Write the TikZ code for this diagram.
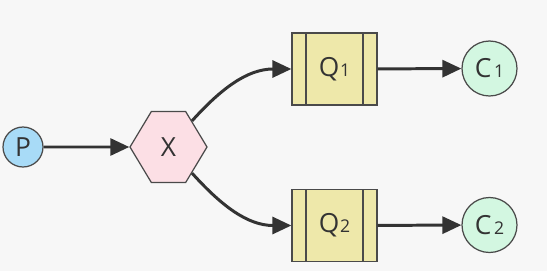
\documentclass[tikz,border=0pt]{standalone}
\usepackage{fontspec}
\setmainfont{Open Sans}
\usepackage{xcolor}
\usetikzlibrary{arrows.meta,shapes.geometric,shapes.symbols}
\definecolor{mqbg}{HTML}{F7F7F7}
\definecolor{mqline}{HTML}{333333}
\definecolor{mqborder}{HTML}{4A4A4A}
\definecolor{mqprod}{HTML}{A8DBF7}
\definecolor{mqexch}{HTML}{FCDFE5}
\definecolor{mqqueue}{HTML}{EEE8AA}
\definecolor{mqcons}{HTML}{D3F7E1}

\newcommand{\sub}[1]{\kern0.5pt{\fontsize{10}{10}\selectfont #1}}

\begin{document}
\begin{tikzpicture}[
        x=0.02cm, y=-0.02cm,
        font=\fontsize{15}{18}\selectfont,
        base/.style={draw=mqborder, line width=0.7pt, text=black!80, inner sep=0pt},
        producer/.style={base, circle, minimum size=0.8cm, fill=mqprod},
        exchange/.style={base, signal, signal to=west and east, signal pointer angle=118,
            minimum width=1.54cm, minimum height=1.42cm, fill=mqexch},
        queue/.style={base, rectangle, minimum width=1.7cm, minimum height=1.44cm, fill=mqqueue,
            path picture={
                \draw[mqborder, line width=0.7pt]
                    ([xshift=0.28cm]path picture bounding box.north west) --
                    ([xshift=0.28cm]path picture bounding box.south west)
                    ([xshift=-0.28cm]path picture bounding box.north east) --
                    ([xshift=-0.28cm]path picture bounding box.south east);
            }},
        consumer/.style={base, circle, minimum size=1.1cm, fill=mqcons},
        msg/.style={-{Triangle[length=0.38cm,width=0.34cm]}, line width=1.7pt, mqline}
    ]
    \fill[mqbg] (0,0) rectangle (547,271);

    \node[producer] (p) at (23,147) {P};
    \node[exchange] (x) at (168.5,147) {X};
    \node[queue] (q1) at (334.5,69) {Q\sub{1}};
    \node[queue] (q2) at (334.5,225.5) {Q\sub{2}};
    \node[consumer] (c1) at (489.5,68.5) {C\kern1pt\sub{1}};
    \node[consumer] (c2) at (489.5,225) {C\kern1pt\sub{2}};

    \draw[msg] (p) -- (x);
    \draw[msg] (x) to[out=48,in=180] (q1);
    \draw[msg] (x) to[out=-48,in=180] (q2);
    \draw[msg] (q1) -- (c1);
    \draw[msg] (q2) -- (c2);
\end{tikzpicture}
\end{document}
